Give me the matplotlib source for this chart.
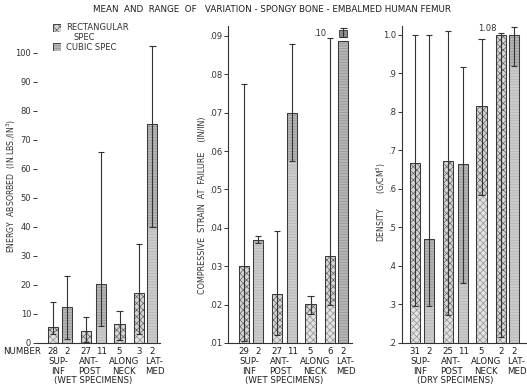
import matplotlib
matplotlib.use("Agg")
import matplotlib.pyplot as plt
import matplotlib.transforms as mtransforms

plt.rcParams['font.family'] = ['DejaVu Sans']
plt.rcParams['hatch.linewidth'] = 0.5

# ---------------- data ----------------
title = "MEAN  AND  RANGE  OF   VARIATION - SPONGY BONE - EMBALMED HUMAN FEMUR"
groups_top = ["SUP-", "ANT-", "ALONG", "LAT-"]
groups_bot = ["INF", "POST", "NECK", "MED"]

energy_n = ["28", "2", "27", "11", "5", "3", "2"]
energy_kind = ["R", "C", "R", "C", "R", "R", "C"]
energy_mean = [5.5, 12.5, 4.0, 20.5, 6.5, 17.3, 75.5]
energy_low = [3.0, 1.5, 0.5, 6.0, 1.0, 3.0, 40.0]
energy_high = [14.0, 23.0, 9.0, 66.0, 11.0, 34.0, 102.5]

strain_n = ["29", "2", "27", "11", "5", "6", "2"]
strain_kind = ["R", "C", "R", "C", "R", "R", "C"]
strain_mean = [0.0300, 0.0368, 0.0228, 0.0700, 0.0201, 0.0327, 0.0887]
strain_low = [0.0105, 0.0360, 0.0120, 0.0575, 0.0175, 0.0200, 0.0897]
strain_high = [0.0775, 0.0380, 0.0393, 0.0880, 0.0223, 0.1000, 0.0922]

density_n = ["31", "2", "25", "11", "5", "2", "2"]
density_kind = ["R", "C", "R", "C", "R", "R", "C"]
density_mean = [0.668, 0.470, 0.672, 0.665, 0.815, 1.000, 1.000]
density_low = [0.295, 0.295, 0.272, 0.355, 0.585, 0.215, 0.920]
density_high = [1.000, 1.000, 1.010, 0.917, 0.990, 1.080, 1.020]

energy_ticks = [0, 10, 20, 30, 40, 50, 60, 70, 80, 90, 100]
energy_ticklabels = ["0", "10", "20", "30", "40", "50", "60", "70", "80", "90", "100"]
strain_ticks = [0.01, 0.02, 0.03, 0.04, 0.05, 0.06, 0.07, 0.08, 0.09]
strain_ticklabels = [".01", ".02", ".03", ".04", ".05", ".06", ".07", ".08", ".09"]
density_ticks = [0.2, 0.3, 0.4, 0.5, 0.6, 0.7, 0.8, 0.9, 1.0]
density_ticklabels = [".2", ".3", ".4", ".5", ".6", ".7", ".8", ".9", "1.0"]

# ---------------- layout ----------------
slots = [0, 1, 2.36, 3.43, 4.75, 6.14, 7.1]
top_pos = [0.4, 2.6, 5.1, 7.25]
bot_pos = [0.35, 2.6, 5.1, 7.3]
spec_pos = 2.87
bw = 0.72
capw = 0.22

fig = plt.figure(figsize=(5.27, 3.89), dpi=100)
W, H = 527.0, 389.0
bottom = 46 / H
height = 317 / H
txt_color = "#1e1e1e"
lab_fs = 6.2

styles = {
    "R": dict(facecolor="#d6d6d6", hatch="xxxxx", hcolor="#626262"),
    "C": dict(facecolor="#b6b6b6", hatch="------", hcolor="#939393"),
}


def panel(x0, w, ylim, xlim, kinds, means, lows, highs, ticks, ticklabels,
          ylabel, ylabel_x, ylabel_y, ylabel_fs, ns, spec_label, clip=None,
          clip_texts=None, show_spine=True):
    ax = fig.add_axes([x0 / W, bottom, w / W, height])
    base = ylim[0]
    for i, x in enumerate(slots):
        st = styles[kinds[i]]
        ax.bar(x, means[i] - base, bottom=base, width=bw, color=st["facecolor"],
               hatch=st["hatch"], edgecolor=st["hcolor"], linewidth=0, zorder=2)
        lo = max(lows[i], base)
        if lo > base and lo < means[i]:
            ax.bar(x, lo - base, bottom=base, width=bw, color="white", alpha=0.3,
                   linewidth=0, zorder=2.5)
        ax.bar(x, means[i] - base, bottom=base, width=bw, fill=False,
               edgecolor="#3a3a3a", linewidth=0.75, zorder=3)
        hi = highs[i]
        off_scale = hi > ylim[1]
        hi_draw = clip if off_scale else hi
        if lows[i] > means[i]:
            # range lies above the mean: small boxed range marker
            ax.bar(x, (hi_draw - lows[i]) * 0.75, bottom=lows[i],
                   width=bw * 0.8, color="#8c8c8c", edgecolor="#333333",
                   linewidth=0.6, zorder=3.5)
        ax.vlines(x, lows[i], hi_draw, color="#333333", linewidth=0.8, zorder=4)
        ax.hlines([lows[i], hi_draw], x - capw, x + capw, color="#333333",
                  linewidth=0.8, zorder=4)
        if off_scale:
            ax.text(x - 0.3, hi_draw, clip_texts[i], ha="right", va="bottom",
                    fontsize=6, color="#333333")
    ax.set_xlim(*xlim)
    ax.set_ylim(*ylim)
    ax.set_yticks(ticks)
    ax.set_yticklabels(ticklabels, fontsize=6, color="#333333")
    ax.set_xticks([])
    ax.tick_params(axis="y", direction="out", length=3, width=0.7, pad=1.2,
                   colors="#333333")
    for s in ["top", "right"]:
        ax.spines[s].set_visible(False)
    ax.spines["left"].set_visible(show_spine)
    ax.spines["bottom"].set_linewidth(0.8)
    ax.spines["left"].set_linewidth(0.8)
    ax.spines["bottom"].set_color("#333333")
    ax.spines["left"].set_color("#333333")
    fig.text(ylabel_x / W, 1 - ylabel_y / H, ylabel, rotation=90, ha="center",
             va="center", fontsize=ylabel_fs, color="#333333")
    tr = mtransforms.blended_transform_factory(ax.transData, fig.transFigure)
    for i, x in enumerate(slots):
        ax.text(x, 1 - 352 / H, ns[i], transform=tr, ha="center", va="center",
                fontsize=lab_fs, color=txt_color)
    for g in range(len(groups_top)):
        ax.text(top_pos[g], 1 - 362 / H, groups_top[g], transform=tr, ha="center",
                va="center", fontsize=lab_fs, color=txt_color)
        ax.text(bot_pos[g], 1 - 372 / H, groups_bot[g], transform=tr, ha="center",
                va="center", fontsize=lab_fs, color=txt_color)
    ax.text(spec_pos, 1 - 381 / H, spec_label, transform=tr, ha="center",
            va="center", fontsize=lab_fs, color=txt_color)
    return ax


panel(37, 123, (0, 109.3), (-1.14, 7.64), energy_kind, energy_mean, energy_low,
      energy_high, energy_ticks, energy_ticklabels,
      "ENERGY  ABSORBED  (IN.LBS./IN$^3$)", 11, 186, 5.6, energy_n,
      "(WET SPECIMENS)", show_spine=False)
panel(228, 124, (0.01, 0.0926), (-1.14, 7.71), strain_kind, strain_mean, strain_low,
      strain_high, strain_ticks, strain_ticklabels,
      "COMPRESSIVE  STRAIN  AT  FAILURE    (IN/IN)", 203, 205, 5.8, strain_n,
      "(WET SPECIMENS)", clip=0.0895,
      clip_texts=["", "", "", "", "", ".10", ""])
panel(402, 125, (0.2, 1.023), (-0.93, 8.0), density_kind, density_mean, density_low,
      density_high, density_ticks, density_ticklabels,
      "DENSITY      (G/CM$^3$)", 381, 202, 5.6, density_n, "(DRY SPECIMENS)",
      clip=1.005, clip_texts=["", "", "", "", "", "1.08", ""])

fig.text(272 / W, 1 - 9 / H, title, ha="center", va="center", fontsize=6.3,
         color=txt_color)
fig.text(3 / W, 1 - 352 / H, "NUMBER", ha="left", va="center", fontsize=lab_fs,
         color=txt_color)

# legend
for k, (yy, label) in zip(["R", "C"], [(28, "RECTANGULAR"), (47, "CUBIC SPEC")]):
    st = styles[k]
    lax = fig.add_axes([53 / W, 1 - (yy + 4) / H, 8 / W, 8 / H])
    lax.add_patch(plt.Rectangle((0, 0), 1, 1, facecolor=st["facecolor"],
                                hatch=st["hatch"], edgecolor=st["hcolor"], linewidth=0))
    lax.add_patch(plt.Rectangle((0, 0), 1, 1, fill=False, edgecolor="#444444",
                                linewidth=0.7))
    lax.set_xlim(0, 1)
    lax.set_ylim(0, 1)
    lax.axis("off")
    fig.text(66 / W, 1 - yy / H, label, ha="left", va="center", fontsize=6,
             color="#333333")
fig.text(74 / W, 1 - 37 / H, "SPEC", ha="left", va="center", fontsize=6,
         color="#333333")

fig.savefig("out.png", dpi=100)
